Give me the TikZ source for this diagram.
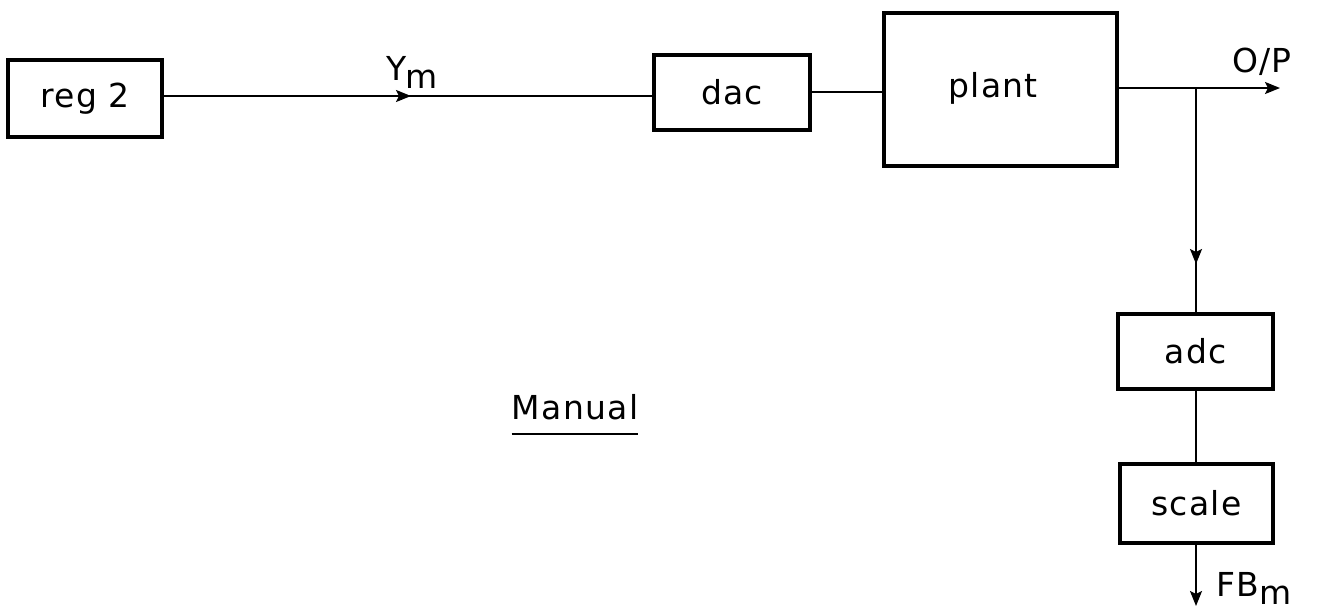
\documentclass[tikz,border=0pt]{standalone}
\usepackage{fontspec}
\setmainfont{DejaVu Sans}[LetterSpace=4]
\usetikzlibrary{arrows.meta}
\begin{document}
\begin{tikzpicture}[x=1pt,y=-1pt,
  blk/.style={draw,line width=3.4pt,inner sep=0pt,font=\fontsize{33}{38}\selectfont},
  conn/.style={line width=2pt},
  arr/.style={conn,-{Stealth[length=15pt,width=12pt,inset=3pt]}},
  lbl/.style={font=\fontsize{33}{38}\selectfont,inner sep=0pt}]
\useasboundingbox (0,0) rectangle (1327,611);
\node[blk,minimum width=154pt,minimum height=77pt] (reg) at (85,98.5) {reg 2};
\node[blk,minimum width=156pt,minimum height=75pt] (dac) at (732,92.5) {dac};
\node[blk,minimum width=233pt,minimum height=153pt] (plant) at (1000.5,89.5) {};
\node[lbl] (plantt) at (993,88) {plant};
\node[blk,minimum width=155pt,minimum height=75pt] (adc) at (1195.5,351.5) {adc};
\node[blk,minimum width=153pt,minimum height=79pt] (scale) at (1196.5,503.5) {scale};
\coordinate (ymarr) at (411,96);
\coordinate (opend) at (1280,88);
\coordinate (br) at (1196,88);
\coordinate (brarr) at (1196,264);
\coordinate (fbend) at (1196,606);
\draw[conn] (reg.east |- 0,96) -- (dac.west |- ymarr);
\draw[arr] (reg.east |- 0,96) -- (ymarr);
\draw[conn] (dac.east |- 0,92) -- (plant.west |- 0,92);
\draw[arr] (plant.east |- opend) -- (opend);
\draw[conn] (br) -- (adc.north -| br);
\draw[arr] (br) -- (brarr);
\draw[conn] (adc.south -| br) -- (scale.north -| br);
\draw[arr] (scale.south -| br) -- (fbend);
\node[lbl] (ym) at (412,72) {Y\kern-2pt\raisebox{-8pt}{m}};
\node[lbl] (op) at (1262,62) {O/P};
\node[lbl] (fb) at (1254,588) {FB\raisebox{-8pt}{m}};
\node[lbl] (man) at (575,407) {Manual};
\draw[conn] (man.south west) ++(0,14) coordinate (u1) -- (man.south east |- u1);
\end{tikzpicture}
\end{document}
